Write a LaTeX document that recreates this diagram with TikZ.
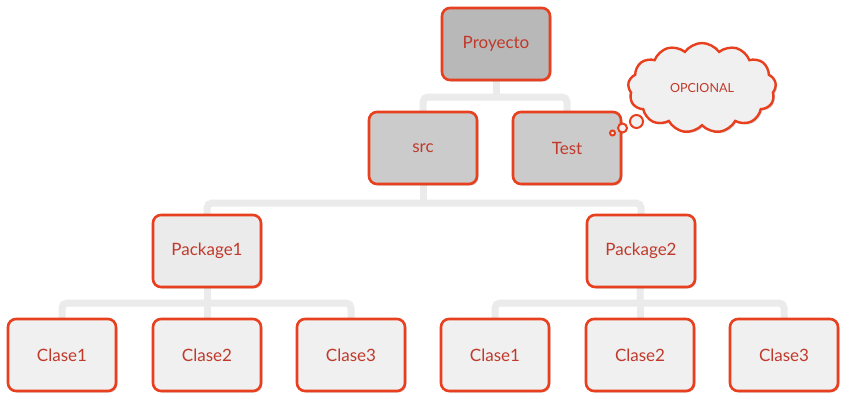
\documentclass[tikz,border=0pt]{standalone}
\usepackage{fontspec}
\setmainfont{Lato}
\usetikzlibrary{shapes.symbols,shadows,backgrounds,calc}
\definecolor{bordr}{HTML}{E8401F}
\definecolor{txt}{HTML}{C0392B}
\definecolor{conncol}{HTML}{EBEBEB}
\definecolor{fillA}{HTML}{B8B8B8}
\definecolor{fillB}{HTML}{CBCBCB}
\definecolor{fillC}{HTML}{EBEBEB}
\definecolor{fillD}{HTML}{F0F0F0}
\tikzset{
  boxst/.style={draw=bordr, line width=2.6pt, rounded corners=8pt,
    minimum width=108pt, minimum height=72pt, text=txt,
    font=\fontsize{17}{20}\selectfont,
    drop shadow={shadow xshift=1.5pt, shadow yshift=-1.5pt, opacity=0.35, fill=gray}},
  conn/.style={draw=conncol, line width=7pt, rounded corners=5pt},
  bubble/.style={draw=bordr, line width=2pt, fill=fillD, circle, inner sep=0pt},
}
\begin{document}
\begin{tikzpicture}[x=1pt,y=-1pt]
\useasboundingbox (0,0) rectangle (848,404);
\node[boxst, fill=fillA] (proy) at (496,44) {Proyecto};
\node[boxst, fill=fillB] (src) at (423,148) {src};
\node[boxst, fill=fillB] (test) at (567,148) {Test};
\node[boxst, fill=fillC] (pk1) at (207,251) {Package1};
\node[boxst, fill=fillC] (pk2) at (641,251) {Package2};
\node[boxst, fill=fillD] (c1) at (62,355) {Clase1};
\node[boxst, fill=fillD] (c2) at (207,355) {Clase2};
\node[boxst, fill=fillD] (c3) at (351,355) {Clase3};
\node[boxst, fill=fillD] (c4) at (495,355) {Clase1};
\node[boxst, fill=fillD] (c5) at (640,355) {Clase2};
\node[boxst, fill=fillD] (c6) at (784,355) {Clase3};
\node[cloud, cloud puffs=13, cloud puff arc=110, aspect=1.7, draw=bordr, line width=2.4pt,
  fill=fillD, minimum width=148pt, minimum height=90pt, text=txt,
  font=\fontsize{12.5}{14}\selectfont,
  drop shadow={shadow xshift=1.5pt, shadow yshift=-1.5pt, opacity=0.35, fill=gray}] (cloud) at (702,88) {OPCIONAL};
\node[bubble, minimum size=5pt] (b1) at (612.5,133) {};
\node[bubble, minimum size=9pt] (b2) at (622.5,128) {};
\node[bubble, minimum size=13pt] (b3) at (636.5,121.5) {};
\coordinate (j0) at (496,97);
\coordinate (j1) at (423,203);
\coordinate (j2) at (207,303);
\coordinate (j3) at (640,303);
\begin{pgfonlayer}{background}
\fill[white] (0,0) rectangle (848,404);
\draw[conn] (proy.center) -- (j0);
\draw[conn] (src.center) |- (j0) -| (test.center);
\draw[conn] (src.center) -- (j1);
\draw[conn] (pk1.center) |- (j1) -| (pk2.center);
\draw[conn] (pk1.center) -- (j2);
\draw[conn] (c1.center) |- (j2) -| (c3.center);
\draw[conn] (c2.center) -- (j2);
\draw[conn] (pk2.center) -- (j3);
\draw[conn] (c4.center) |- (j3) -| (c6.center);
\draw[conn] (c5.center) -- (j3);
\end{pgfonlayer}
\end{tikzpicture}
\end{document}
